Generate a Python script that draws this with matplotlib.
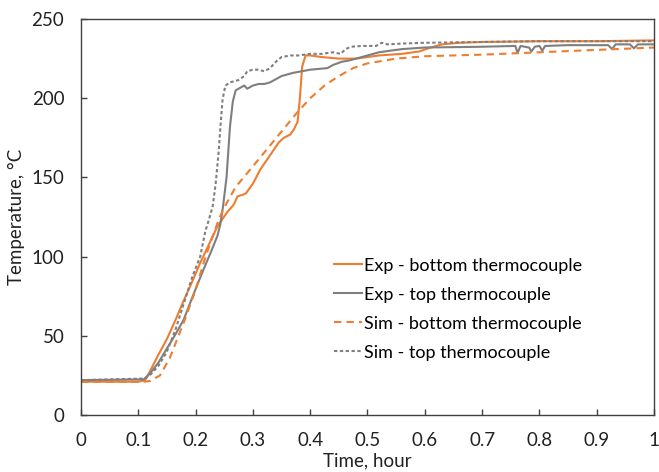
import matplotlib
matplotlib.use("Agg")
import matplotlib.pyplot as plt

plt.rcParams['font.family'] = ['Lato', 'DejaVu Sans']

# Exp - bottom thermocouple
exp_bot_t = [0, 0.10, 0.112, 0.121, 0.135, 0.15, 0.165, 0.179, 0.195, 0.208, 0.225, 0.238,
             0.255, 0.267, 0.273, 0.282, 0.288, 0.30, 0.313, 0.33, 0.345, 0.354, 0.365, 0.371,
             0.378, 0.382, 0.386, 0.392, 0.40, 0.42, 0.45, 0.48, 0.52, 0.56, 0.59, 0.61, 0.63,
             0.66, 0.70, 0.80, 0.90, 1.0]
exp_bot_T = [21, 21, 22, 28, 38, 48, 60, 72, 85, 96, 109, 119,
             128, 133, 138, 139, 140, 146, 155, 164, 172, 175, 177, 180,
             185, 200, 220, 227, 227, 226, 225, 225, 227, 228, 229.5, 232, 234,
             235, 235.5, 236, 236, 236.5]

# Exp - top thermocouple
exp_top_t = [0, 0.11, 0.12, 0.135, 0.15, 0.165, 0.179, 0.195, 0.214, 0.228, 0.238, 0.243,
             0.248, 0.254, 0.26, 0.265, 0.27, 0.275, 0.28, 0.285, 0.29, 0.295, 0.30, 0.31, 0.32,
             0.33, 0.34, 0.35, 0.37, 0.40, 0.43, 0.44, 0.455, 0.47, 0.50, 0.52, 0.56, 0.60, 0.70,
             0.758, 0.762, 0.767, 0.782, 0.786, 0.792, 0.80, 0.805, 0.81, 0.85, 0.92, 0.927,
             0.933, 0.958, 0.965, 0.972, 1.0]
exp_top_T = [22, 22.5, 26, 33, 42, 51, 60, 75, 92, 104, 113, 120,
             132, 150, 182, 198, 205, 206, 207, 208, 206, 207, 208, 209, 209,
             210, 212, 214, 216, 218, 219, 221, 223, 224, 227, 229, 231, 232, 232.5,
             233, 228.5, 233, 232, 229.5, 232.5, 233, 230, 233, 233.5, 233.5, 231,
             234, 234, 231.5, 234, 234]

# Sim - bottom thermocouple
sim_bot_t = [0, 0.11, 0.121, 0.138, 0.155, 0.168, 0.18, 0.191, 0.20, 0.214, 0.226, 0.24,
             0.25, 0.27, 0.30, 0.325, 0.35, 0.375, 0.40, 0.425, 0.45, 0.475, 0.50, 0.55,
             0.60, 0.70, 0.80, 0.90, 1.0]
sim_bot_T = [21, 21, 21.5, 25, 36, 48, 59, 70, 79, 96, 109, 123,
             131, 144, 157, 168, 179, 190, 200, 208, 214, 219, 222, 225,
             226.5, 227.5, 229, 230.5, 232]

# Sim - top thermocouple
sim_top_t = [0, 0.11, 0.12, 0.135, 0.15, 0.165, 0.179, 0.195, 0.208, 0.217, 0.223, 0.23,
             0.235, 0.24, 0.244, 0.247, 0.252, 0.26, 0.275, 0.285, 0.29, 0.30, 0.31, 0.32,
             0.33, 0.34, 0.35, 0.366, 0.38, 0.40, 0.42, 0.44, 0.453, 0.462, 0.471, 0.49,
             0.515, 0.525, 0.535, 0.56, 0.60, 0.70, 0.80, 1.0]
sim_top_T = [22, 23, 25, 31, 40, 54, 70, 88, 100, 116, 123, 132,
             146, 165, 185, 199, 208, 210, 211.5, 214, 217, 218, 218, 217,
             219, 223, 226, 227, 227, 228, 228, 229, 228, 231, 232.5, 233,
             233, 235, 234, 234.5, 235, 235.5, 236, 236]

orange = '#ED7D31'
gray = '#7F7F7F'
fs = 13.5

fig = plt.figure(figsize=(6.59, 4.72), dpi=100)
ax = fig.add_axes([0.1229, 0.1208, 0.8695, 0.8389])

ax.plot(exp_bot_t, exp_bot_T, color=orange, lw=1.5, label='Exp - bottom thermocouple')
ax.plot(exp_top_t, exp_top_T, color=gray, lw=1.5, label='Exp - top thermocouple')
ax.plot(sim_bot_t, sim_bot_T, color=orange, lw=1.5, dashes=(3.5, 2.5),
        label='Sim - bottom thermocouple')
ax.plot(sim_top_t, sim_top_T, color=gray, lw=1.5, dashes=(1.6, 1.2),
        label='Sim - top thermocouple')

ax.set_xlim(0, 1)
ax.set_ylim(0, 250)
ax.set_xticks([0, 0.1, 0.2, 0.3, 0.4, 0.5, 0.6, 0.7, 0.8, 0.9, 1])
ax.set_xticklabels(['0', '0.1', '0.2', '0.3', '0.4', '0.5', '0.6', '0.7', '0.8', '0.9', '1'])
ax.set_yticks([0, 50, 100, 150, 200, 250])

for s in ax.spines.values():
    s.set_color('#404040')
    s.set_linewidth(1.0)
ax.tick_params(axis='both', direction='in', length=4, width=1.0, color='#404040',
               labelsize=fs, labelcolor='#222222')
ax.tick_params(axis='x', pad=12)
ax.tick_params(axis='y', pad=12)

ax.set_xlabel('Time, hour', fontsize=fs, color='#222222', labelpad=3)
ax.set_ylabel('Temperature, °C', fontsize=fs, color='#222222', labelpad=5)

ax.legend(loc='upper left', bbox_to_anchor=(0.441, 0.397), frameon=False,
          fontsize=13, borderpad=0, borderaxespad=0, handlelength=1.55,
          handletextpad=0.15, labelspacing=0.72)

fig.savefig('out.png', dpi=100)
